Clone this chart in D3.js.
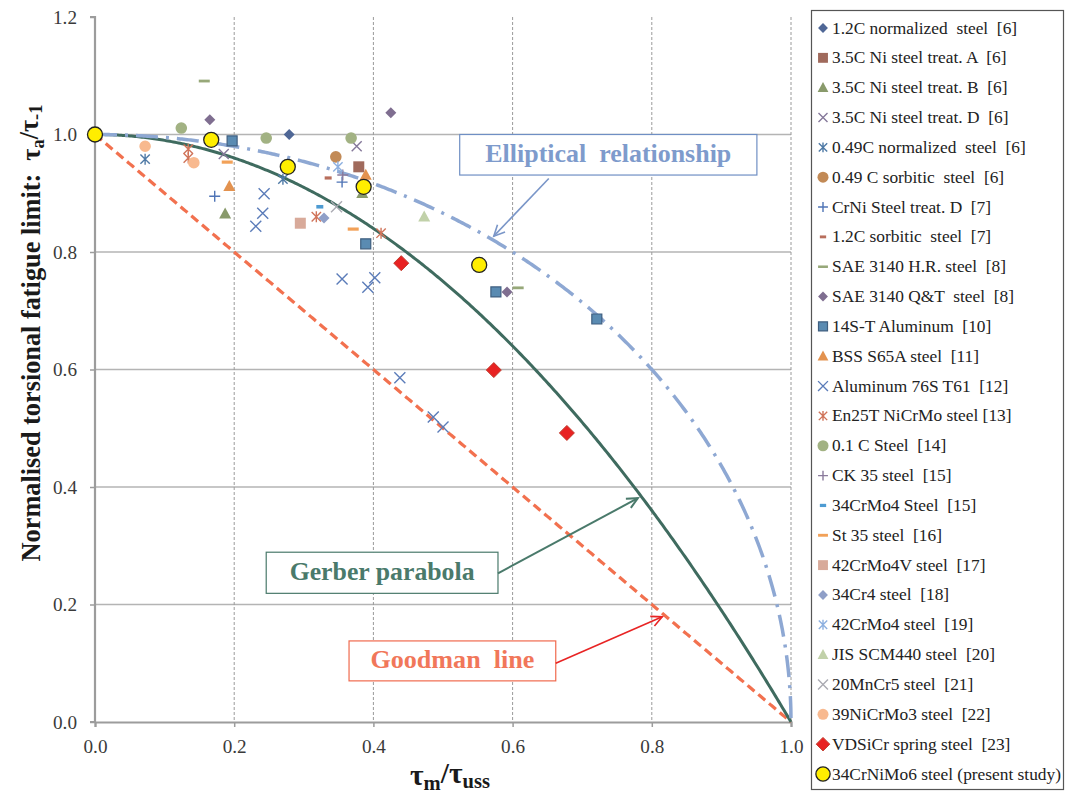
<!DOCTYPE html>
<html>
<head>
<meta charset="utf-8">
<script src="https://cdn.jsdelivr.net/npm/d3@7"></script>
<style>
  html, body { margin: 0; padding: 0; background: #fff; }
  svg { display: block; }
  svg text { font-family: "Liberation Serif", "Times New Roman", Tinos, "Nimbus Roman", "DejaVu Serif", "Noto Serif", serif; }
</style>
</head>
<body>
<svg id="chart" width="1065" height="796"></svg>
<script>
// ---- Data: normalised mean stress (x) vs normalised torsional fatigue limit (y) ----
const seriesNames = [
  "1.2C normalized  steel  [6]",
  "3.5C Ni steel treat. A  [6]",
  "3.5C Ni steel treat. B  [6]",
  "3.5C Ni steel treat. D  [6]",
  "0.49C normalized  steel  [6]",
  "0.49 C sorbitic  steel  [6]",
  "CrNi Steel treat. D  [7]",
  "1.2C sorbitic  steel  [7]",
  "SAE 3140 H.R. steel  [8]",
  "SAE 3140 Q&T  steel  [8]",
  "14S-T Aluminum  [10]",
  "BSS S65A steel  [11]",
  "Aluminum 76S T61  [12]",
  "En25T NiCrMo steel [13]",
  "0.1 C Steel  [14]",
  "CK 35 steel  [15]",
  "34CrMo4 Steel  [15]",
  "St 35 steel  [16]",
  "42CrMo4V steel  [17]",
  "34Cr4 steel  [18]",
  "42CrMo4 steel  [19]",
  "JIS SCM440 steel  [20]",
  "20MnCr5 steel  [21]",
  "39NiCrMo3 steel  [22]",
  "VDSiCr spring steel  [23]",
  "34CrNiMo6 steel (present study)"
];

const normalized12C  = [[0.279, 1.000]];
const niSteelA       = [[0.379, 0.945]];
const niSteelB       = [[0.187, 0.865], [0.384, 0.900]];
const niSteelD       = [[0.185, 0.967], [0.376, 0.980]];
const normalized049C = [[0.072, 0.958], [0.270, 0.924]];
const sorbitic049C   = [[0.346, 0.962]];
const crNiD          = [[0.172, 0.895], [0.355, 0.919]];
const sorbitic12C    = [[0.335, 0.926]];
const sae3140HR      = [[0.157, 1.091], [0.608, 0.739]];
const sae3140QT      = [[0.165, 1.025], [0.425, 1.037], [0.592, 0.732]];
const al14ST         = [[0.197, 0.989], [0.389, 0.814], [0.576, 0.732], [0.721, 0.686]];
const bssS65A        = [[0.193, 0.912], [0.389, 0.931]];
const al76ST61       = [[0.243, 0.899], [0.241, 0.866], [0.231, 0.844], [0.355, 0.754],
                        [0.392, 0.740], [0.402, 0.756], [0.438, 0.586], [0.486, 0.519], [0.500, 0.502]];
const en25T          = [[0.134, 0.975], [0.134, 0.960], [0.318, 0.860], [0.411, 0.832]];
const carbon01       = [[0.124, 1.011], [0.246, 0.994], [0.368, 0.994]];
const ck35           = [[0.356, 0.931]];
const crMo4Ref15     = [[0.323, 0.877]];
const st35           = [[0.190, 0.953], [0.371, 0.839]];
const crMo4V         = [[0.295, 0.849]];
const cr4            = [[0.329, 0.858]];
const crMo4Ref19     = [[0.349, 0.945]];
const scm440         = [[0.473, 0.860]];
const mnCr5          = [[0.347, 0.877]];
const niCrMo3        = [[0.072, 0.980], [0.142, 0.952]];
const vdSiCr         = [[0.440, 0.781], [0.573, 0.599], [0.678, 0.492]];
const crNiMo6        = [[0.000, 1.000], [0.167, 0.991], [0.277, 0.945], [0.386, 0.911], [0.552, 0.778]];

const xTicks = [0, 0.2, 0.4, 0.6, 0.8, 1.0];
const yTicks = [0, 0.2, 0.4, 0.6, 0.8, 1.0, 1.2];

// Classical mean-stress criteria (normalised)
const goodman    = x => 1 - x;
const gerber     = x => 1 - x * x;
const elliptical = x => Math.sqrt(Math.max(0, 1 - x * x));

// ---- Marker styles, one per series (same order as names) ----
const markerStyles = [
  { shape: "diamond",  size: 5.5, fill: "#4f6796", stroke: "none" },
  { shape: "square",   size: 5.5, fill: "#a06a5c", stroke: "none" },
  { shape: "triangle", size: 6,   fill: "#899a6b", stroke: "none" },
  { shape: "x",        size: 5,   fill: "none", stroke: "#85789a", sw: 1.4 },
  { shape: "star",     size: 5.5, fill: "none", stroke: "#4f7aa6", sw: 1.4 },
  { shape: "circle",   size: 5.8, fill: "#c28a56", stroke: "none" },
  { shape: "plus",     size: 5.5, fill: "none", stroke: "#4f74b6", sw: 1.4 },
  { shape: "dash",     size: 3.5, h: 1.6, fill: "#b86e5c", stroke: "none" },
  { shape: "dash",     size: 5.5, h: 1.4, fill: "#97a879", stroke: "none" },
  { shape: "diamond",  size: 5.5, fill: "#7f6e90", stroke: "none" },
  { shape: "square",   size: 5,   fill: "#5a8bb2", stroke: "#3f5f80", sw: 1.2 },
  { shape: "triangle", size: 6,   fill: "#e3924f", stroke: "none" },
  { shape: "x",        size: 5.5, fill: "none", stroke: "#5b7cb9", sw: 1.4 },
  { shape: "star",     size: 5.5, fill: "none", stroke: "#d0745a", sw: 1.4 },
  { shape: "circle",   size: 5.8, fill: "#a2b283", stroke: "none" },
  { shape: "plus",     size: 5.5, fill: "none", stroke: "#8a7a9c", sw: 1.4 },
  { shape: "dash",     size: 3.5, h: 1.8, fill: "#4e9bd2", stroke: "none" },
  { shape: "dash",     size: 5.5, h: 1.6, fill: "#f2a158", stroke: "none" },
  { shape: "square",   size: 5.5, fill: "#d8aa9a", stroke: "none" },
  { shape: "diamond",  size: 5.5, fill: "#8f9fc8", stroke: "none" },
  { shape: "star",     size: 5.5, fill: "none", stroke: "#8db0e0", sw: 1.4 },
  { shape: "triangle", size: 6,   fill: "#c1d1a9", stroke: "none" },
  { shape: "x",        size: 5.5, fill: "none", stroke: "#aaaab2", sw: 1.4 },
  { shape: "circle",   size: 5.8, fill: "#f8b98f", stroke: "none" },
  { shape: "diamond",  size: 7.5, fill: "#e82222", stroke: "#c0392b", sw: 1 },
  { shape: "circle",   size: 7.5, fill: "#ffee00", stroke: "#222222", sw: 1.3 }
];

const seriesData = [
  normalized12C, niSteelA, niSteelB, niSteelD, normalized049C, sorbitic049C, crNiD,
  sorbitic12C, sae3140HR, sae3140QT, al14ST, bssS65A, al76ST61, en25T, carbon01, ck35,
  crMo4Ref15, st35, crMo4V, cr4, crMo4Ref19, scm440, mnCr5, niCrMo3, vdSiCr, crNiMo6
];

const series = seriesNames.map((name, i) => ({ name, points: seriesData[i], style: markerStyles[i] }));

// ---- Marker path generators ----
function markerPath(st, scale = 1) {
  const s = st.size * scale;
  switch (st.shape) {
    case "diamond":  return `M0,${-s}L${s},0L0,${s}L${-s},0Z`;
    case "square":   return `M${-s},${-s}H${s}V${s}H${-s}Z`;
    case "triangle": return `M0,${-s * 1.05}L${s},${s * 0.8}L${-s},${s * 0.8}Z`;
    case "circle":   return `M${s},0A${s},${s} 0 1,1 ${-s},0A${s},${s} 0 1,1 ${s},0Z`;
    case "x":        return `M${-s},${-s}L${s},${s}M${-s},${s}L${s},${-s}`;
    case "plus":     return `M${-s},0H${s}M0,${-s}V${s}`;
    case "star":     return `M${-s * 0.85},${-s * 0.85}L${s * 0.85},${s * 0.85}M${-s * 0.85},${s * 0.85}L${s * 0.85},${-s * 0.85}M0,${-s}V${s}`;
    case "dash": {
      const h = st.h * scale;
      return `M${-s},${-h}H${s}V${h}H${-s}Z`;
    }
  }
}

// Scale a text element's font so its rendered width equals `target` px
function fitWidth(node, target) {
  const w = node.getComputedTextLength();
  const fs = parseFloat(node.style.fontSize);
  if (w > 0) node.style.fontSize = (fs * target / w).toFixed(2) + "px";
  return fs * target / w;
}

// ---- Layout ----
const svg = d3.select("#chart");
const plot = { left: 95, right: 791, top: 17, bottom: 722 };
const x = d3.scaleLinear().domain([0, 1]).range([plot.left, plot.right]);
const y = d3.scaleLinear().domain([0, 1.2]).range([plot.bottom, plot.top]);

// Horizontal gridlines (solid)
svg.append("g").selectAll("line")
  .data(yTicks.filter(d => d > 0 && d < 1.2))
  .join("line")
  .attr("x1", plot.left).attr("x2", plot.right)
  .attr("y1", d => y(d)).attr("y2", d => y(d))
  .attr("stroke", "#b4b4b4").attr("stroke-width", 1.6);

// Vertical gridlines (dashed)
svg.append("g").selectAll("line")
  .data(xTicks.filter(d => d > 0))
  .join("line")
  .attr("x1", d => x(d)).attr("x2", d => x(d))
  .attr("y1", plot.top).attr("y2", plot.bottom)
  .attr("stroke", "#9a9a9a").attr("stroke-width", 1)
  .attr("stroke-dasharray", "3,2");

// Axes
const fmt = d3.format(".1f");
const yAxis = svg.append("g")
  .attr("transform", `translate(${plot.left},0)`)
  .call(d3.axisLeft(y).tickValues(yTicks).tickFormat(fmt).tickSize(5).tickPadding(13));
const xAxis = svg.append("g")
  .attr("transform", `translate(0,${plot.bottom})`)
  .call(d3.axisBottom(x).tickValues(xTicks).tickFormat(fmt).tickSize(5).tickPadding(12));

yAxis.attr("font-family", null);
xAxis.attr("font-family", null);
[yAxis, xAxis].forEach(ax => {
  ax.select(".domain").attr("stroke", "#9c9c9c").attr("stroke-width", 2.2);
  ax.selectAll(".tick line").attr("stroke", "#9c9c9c").attr("stroke-width", 1.5);
  ax.selectAll(".tick text")
    .attr("fill", "#3a3a3a")
    .style("font-size", "18px");
});
yAxis.select(".domain").attr("d", `M-5,${plot.top}H0V${plot.bottom}H-5`);
// tick labels: "0.0" is about 24px wide
{
  const sample = xAxis.select(".tick text").node();
  const fs = fitWidth(sample, 24);
  svg.selectAll(".tick text").style("font-size", fs.toFixed(2) + "px");
}

// ---- Criterion curves ----
const samples = d3.range(0, 1.00001, 0.0025);
const extra = d3.range(0.99, 1.000001, 0.0002);
const lineGen = d3.line().x(d => x(d[0])).y(d => y(d[1]));

svg.append("path")
  .datum(samples.map(v => [v, goodman(v)]))
  .attr("d", lineGen)
  .attr("fill", "none").attr("stroke", "#f2714f").attr("stroke-width", 3.2)
  .attr("stroke-dasharray", "9,5");

svg.append("path")
  .datum(samples.map(v => [v, gerber(v)]))
  .attr("d", lineGen)
  .attr("fill", "none").attr("stroke", "#3f6b5f").attr("stroke-width", 3);

const ellPts = samples.filter(v => v < 0.99).concat(extra).map(v => [v, elliptical(v)]);
svg.append("path")
  .datum(ellPts)
  .attr("d", lineGen)
  .attr("fill", "none").attr("stroke", "#8ea8d3").attr("stroke-width", 3.5)
  .attr("stroke-dasharray", "22,8,3,8");

// ---- Data markers ----
series.forEach(s => {
  svg.append("g").selectAll("path")
    .data(s.points)
    .join("path")
    .attr("transform", d => `translate(${x(d[0])},${y(d[1])})`)
    .attr("d", markerPath(s.style))
    .attr("fill", s.style.fill)
    .attr("stroke", s.style.stroke)
    .attr("stroke-width", s.style.sw || 0);
});

// ---- Annotation boxes with arrows (positions in data units) ----
const annotations = [
  { label: "Elliptical  relationship", width: 246, box: [0.524, 1.0, 0.951, 0.931], color: "#7e9bcc", border: "#6f8fc4",
    arrowFrom: [0.652, 0.925], arrowTo: [0.573, 0.827], arrowColor: "#7a96c8", aw: 1.6 },
  { label: "Gerber parabola", width: 185, box: [0.246, 0.289, 0.579, 0.219], color: "#4a7a6b", border: "#4a7a6b",
    arrowFrom: [0.579, 0.253], arrowTo: [0.780, 0.381], arrowColor: "#4a7a6b", aw: 2 },
  { label: "Goodman  line", width: 164, box: [0.365, 0.138, 0.662, 0.070], color: "#f1775a", border: "#f06a4e",
    arrowFrom: [0.662, 0.100], arrowTo: [0.815, 0.179], arrowColor: "#e82424", aw: 1.6 }
];

annotations.forEach(a => {
  const [x0, y0, x1, y1] = a.box;
  svg.append("rect")
    .attr("x", x(x0)).attr("y", y(y0))
    .attr("width", x(x1) - x(x0)).attr("height", y(y1) - y(y0))
    .attr("fill", "#fff").attr("stroke", a.border).attr("stroke-width", 1.2);
  const t = svg.append("text")
    .attr("x", (x(x0) + x(x1)) / 2)
    .attr("y", (y(y0) + y(y1)) / 2 + 7.5)
    .attr("text-anchor", "middle")
    .attr("fill", a.color)
    .style("font-size", "22px").style("font-weight", "bold").style("white-space", "pre")
    .text(a.label);
  fitWidth(t.node(), a.width);

  const fx = x(a.arrowFrom[0]), fy = y(a.arrowFrom[1]);
  const tx = x(a.arrowTo[0]),   ty = y(a.arrowTo[1]);
  const ang = Math.atan2(ty - fy, tx - fx);
  const L = 12, spread = 0.45;
  svg.append("line")
    .attr("x1", fx).attr("y1", fy).attr("x2", tx).attr("y2", ty)
    .attr("stroke", a.arrowColor).attr("stroke-width", a.aw);
  svg.append("path")
    .attr("d", `M${tx - L * Math.cos(ang - spread)},${ty - L * Math.sin(ang - spread)}L${tx},${ty}L${tx - L * Math.cos(ang + spread)},${ty - L * Math.sin(ang + spread)}`)
    .attr("fill", "none").attr("stroke", a.arrowColor).attr("stroke-width", a.aw);
});

// ---- Axis titles ----
const yTitle = svg.append("text")
  .attr("transform", "translate(40,333) rotate(-90)")
  .attr("text-anchor", "middle")
  .attr("fill", "#1a1a1a")
  .style("font-size", "23px").style("font-weight", "bold").style("white-space", "pre");
yTitle.append("tspan").text("Normalised torsional fatigue limit:  τ");
yTitle.append("tspan").attr("dy", "0.22em").style("font-size", "0.7em").text("a");
yTitle.append("tspan").attr("dy", "-0.22em").text("/τ");
yTitle.append("tspan").attr("dy", "0.22em").style("font-size", "0.7em").text("-1");
fitWidth(yTitle.node(), 457);

const xTitle = svg.append("text")
  .attr("x", 450).attr("y", 785)
  .attr("text-anchor", "middle")
  .attr("fill", "#1a1a1a")
  .style("font-size", "26px").style("font-weight", "bold");
xTitle.append("tspan").text("τ");
xTitle.append("tspan").attr("dy", "0.23em").style("font-size", "0.7em").text("m");
xTitle.append("tspan").attr("dy", "-0.23em").text("/τ");
xTitle.append("tspan").attr("dy", "0.23em").style("font-size", "0.7em").text("uss");
fitWidth(xTitle.node(), 80);

// ---- Legend ----
const legend = svg.append("g");
legend.append("rect")
  .attr("x", 811.5).attr("y", 10.5).attr("width", 252).attr("height", 779)
  .attr("fill", "#fff").attr("stroke", "#555").attr("stroke-width", 1.2);

const rowY = d3.scalePoint().domain(d3.range(series.length)).range([28, 774]);
const legendTexts = [];
series.forEach((s, i) => {
  const row = legend.append("g").attr("transform", `translate(0,${rowY(i)})`);
  row.append("path")
    .attr("transform", "translate(823,0)")
    .attr("d", markerPath(s.style, s.style.shape === "circle" ? 0.95 : 0.9))
    .attr("fill", s.style.fill)
    .attr("stroke", s.style.stroke)
    .attr("stroke-width", s.style.sw || 0);
  legendTexts.push(row.append("text")
    .attr("x", 832).attr("y", 5.5)
    .attr("fill", "#222")
    .style("font-size", "16.5px").style("white-space", "pre")
    .text(s.name).node());
});
// the longest entry spans about 229px
{
  const fs = fitWidth(legendTexts[legendTexts.length - 1], 229);
  legendTexts.forEach(n => n.style.fontSize = fs.toFixed(2) + "px");
}
</script>
</body>
</html>
